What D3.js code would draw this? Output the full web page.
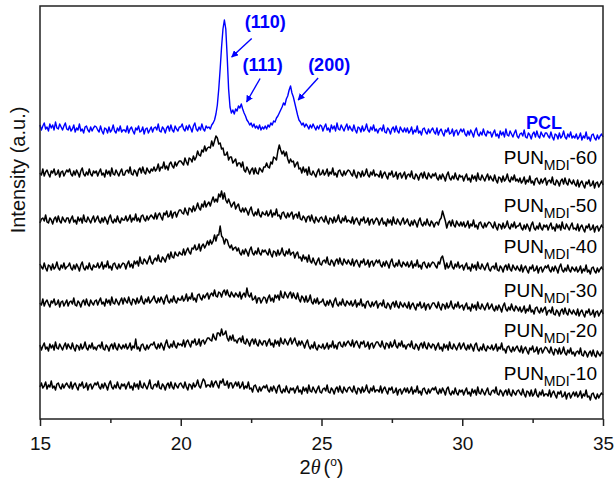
<!DOCTYPE html>
<html>
<head>
<meta charset="utf-8">
<script src="https://cdn.jsdelivr.net/npm/d3@7"></script>
<style>
  html, body { margin: 0; padding: 0; background: #fff; }
  svg { display: block; font-family: Arial, "Liberation Sans", sans-serif; }
</style>
</head>
<body>
<svg id="chart" width="615" height="488"></svg>
<script>
// Diffraction angle grid (degrees 2θ), 0.05° step from 15 to 35
const twoTheta = d3.range(401).map(i => (300 + i) / 20);

// Stacked intensities (a.u., each pattern vertically offset); one row per degree
const pcl = [
  294,289,293,296,290,292,288,295,291,294,289,297,291,290,295,292,289,293,296,290,
  289,293,288,290,294,287,291,289,295,288,290,286,292,293,289,287,292,288,291,293,
  292,289,287,293,288,285,291,290,286,292,287,289,294,288,286,291,288,293,287,289,
  289,287,293,286,290,292,288,285,291,289,293,287,288,292,285,290,291,286,289,292,
  287,291,292,289,295,288,287,292,290,286,291,293,288,294,289,287,293,290,288,292,
  292,295,290,288,293,289,294,291,287,293,296,290,288,292,289,295,290,288,293,291,
  292,290,294,296,299,305,314,330,350,372,390,399,390,362,330,312,306,309,305,310,
  308,313,311,315,310,306,303,299,297,294,296,292,295,291,293,290,294,289,292,290,
  293,290,294,292,296,294,298,297,301,303,306,309,312,316,314,320,323,329,333,326,
  322,316,310,304,299,297,294,296,292,295,293,290,294,291,295,292,289,293,290,294,
  293,288,292,295,289,291,287,294,290,293,288,296,290,289,294,291,288,292,295,289,
  293,290,288,294,289,286,292,291,287,293,288,290,295,289,287,292,289,294,288,290,
  286,290,291,288,294,287,286,291,289,285,290,292,287,293,288,286,292,289,287,291,
  287,291,286,288,292,285,289,287,293,286,288,284,290,291,287,285,290,286,289,291,
  287,285,291,284,288,290,286,283,289,287,291,285,286,290,283,288,289,284,287,290,
  287,290,285,283,288,284,289,286,282,288,291,285,283,287,284,290,285,283,288,286,
  287,282,286,289,283,285,281,288,284,287,282,290,284,283,288,285,282,286,289,283,
  281,285,286,283,289,282,281,286,284,280,285,287,282,288,283,281,287,284,282,286,
  286,283,281,287,282,279,285,284,280,286,281,283,288,282,280,285,282,287,281,283,
  281,285,280,282,286,279,283,281,287,280,282,278,284,285,281,279,284,280,283,285,
  282
];
const pun60 = [
  246,244,250,243,247,249,245,242,248,246,250,244,245,249,242,247,248,243,246,249,
  247,250,245,243,248,244,249,246,242,248,251,245,243,247,244,250,245,243,248,246,
  248,243,247,250,244,246,242,249,245,248,243,251,245,244,249,246,243,247,250,244,
  244,248,249,246,252,245,244,249,247,243,249,251,246,252,247,245,251,248,246,250,
  248,252,248,250,255,248,252,251,257,250,253,249,255,257,253,251,257,253,256,258,
  258,256,254,261,257,254,261,260,257,263,259,262,268,264,263,269,267,273,268,271,
  272,271,278,273,278,283,281,275,276,270,271,264,264,267,259,262,262,256,258,260,
  253,256,256,252,257,249,247,252,249,245,249,251,245,251,246,245,251,249,247,252,
  252,256,252,251,257,255,262,261,259,268,274,269,265,268,263,267,260,256,260,257,
  258,252,255,257,250,251,246,252,247,250,244,252,245,244,248,245,242,247,250,244,
  245,249,244,246,250,243,247,245,251,244,246,242,248,249,245,243,248,244,247,249,
  248,245,243,249,244,241,247,246,242,248,243,245,250,244,242,247,244,249,243,245,
  244,242,248,241,245,247,243,240,246,244,248,242,243,247,240,245,246,241,244,247,
  240,244,245,242,248,241,240,245,243,239,244,246,241,247,242,240,246,243,241,245,
  243,246,241,239,244,240,245,242,238,244,247,241,239,243,240,246,241,239,244,242,
  243,238,242,245,239,241,237,244,240,243,238,246,240,239,244,241,238,242,245,239,
  243,240,238,244,239,236,242,241,237,243,238,240,245,239,237,242,239,244,238,240,
  237,241,236,238,242,235,239,237,243,236,238,234,240,241,237,235,240,236,239,241,
  234,238,239,236,242,235,234,239,237,233,238,240,235,241,236,234,240,237,235,239,
  235,233,239,232,236,238,234,231,237,235,239,233,234,238,231,236,237,232,235,238,
  234
];
const pun50 = [
  196,200,201,198,204,197,196,201,199,195,200,202,197,203,198,196,202,199,197,201,
  201,196,200,203,197,199,195,202,198,201,196,204,198,197,202,199,196,200,203,197,
  200,203,198,196,201,197,202,199,195,201,204,198,196,200,197,203,198,196,201,199,
  199,203,198,200,204,197,201,199,205,198,201,197,203,204,200,198,203,199,202,204,
  202,200,206,200,204,206,202,199,206,204,208,202,203,208,201,206,207,202,206,209,
  209,206,205,211,207,204,211,210,207,213,208,211,216,211,209,215,212,218,212,215,
  217,213,218,222,217,220,217,225,222,228,220,226,219,216,220,216,212,215,217,210,
  213,215,209,207,211,207,211,208,204,209,212,206,203,207,204,210,204,202,207,205,
  204,208,203,205,209,202,206,204,210,203,204,200,206,207,203,201,206,202,205,207,
  200,204,205,201,207,200,199,203,201,197,202,203,198,204,199,196,202,199,197,201,
  202,199,197,203,198,195,201,200,196,202,197,199,204,198,196,201,198,203,197,199,
  198,196,202,195,199,201,197,194,200,198,202,196,197,201,194,199,200,195,198,201,
  199,194,198,201,195,197,193,200,196,199,194,202,196,195,200,197,194,198,201,195,
  197,200,195,193,198,194,199,196,192,198,201,195,193,197,194,200,195,193,198,196,
  192,196,197,194,199,201,208,203,198,191,196,198,193,199,194,192,198,195,193,197,
  193,197,192,194,198,191,195,193,199,192,194,190,196,197,193,191,196,192,195,197,
  196,193,191,197,192,189,195,194,190,196,191,193,198,192,190,195,192,197,191,193,
  193,196,191,189,194,190,195,192,188,194,197,191,189,193,190,196,191,189,194,192,
  194,189,193,196,190,192,188,195,191,194,189,197,191,190,195,192,189,193,196,190,
  191,189,195,188,192,194,190,187,193,191,195,189,190,194,187,192,193,188,191,194,
  191
];
const pun40 = [
  155,152,150,156,151,148,154,153,149,155,150,152,157,151,149,154,151,156,150,152,
  153,156,151,149,154,150,155,152,148,154,157,151,149,153,150,156,151,149,154,152,
  152,156,151,153,157,150,154,152,158,151,153,149,155,156,152,150,155,151,154,156,
  155,150,155,158,152,155,151,158,155,158,153,162,156,155,160,158,155,159,163,157,
  155,159,161,158,164,158,157,162,160,157,162,165,160,167,162,161,167,164,163,167,
  165,164,170,164,168,171,167,165,171,170,174,169,170,175,168,173,175,171,174,178,
  174,179,175,178,184,178,184,184,193,183,181,175,180,179,174,171,174,169,171,172,
  168,171,166,164,169,165,170,167,163,169,172,166,164,168,165,171,166,164,169,167,
  169,166,164,170,165,162,168,167,163,169,164,166,171,165,163,168,165,170,164,166,
  167,161,165,167,161,162,158,164,160,162,157,164,158,156,161,157,154,158,161,155,
  154,158,159,156,162,155,154,159,157,153,158,160,155,161,156,154,160,157,155,159,
  156,154,160,153,157,159,155,152,158,156,160,154,155,159,152,157,158,153,156,159,
  156,159,154,152,157,153,158,155,151,157,160,154,152,156,153,159,154,152,157,155,
  153,157,152,154,158,151,155,153,159,152,154,150,156,157,153,151,156,152,155,157,
  156,153,151,157,155,161,163,157,150,156,151,153,158,152,150,155,152,157,151,153,
  154,149,153,156,150,152,148,155,151,154,149,157,151,150,155,152,149,153,156,150,
  148,152,153,150,156,149,148,153,151,147,152,154,149,155,150,148,154,151,149,153,
  150,148,154,147,151,153,149,146,152,150,154,148,149,153,146,151,152,147,150,153,
  151,154,149,147,152,148,153,150,146,152,155,149,147,151,148,154,149,147,152,150,
  148,152,147,149,153,146,150,148,154,147,149,145,151,152,148,146,151,147,150,152,
  149
];
const pun30 = [
  116,114,120,113,117,119,115,112,118,116,120,114,115,119,112,117,118,113,116,119,
  113,117,118,115,121,114,113,118,116,112,117,119,114,120,115,113,119,116,114,118,
  119,114,118,121,115,117,113,120,116,119,114,122,116,115,120,117,114,118,121,115,
  121,118,116,122,117,114,120,119,115,121,116,118,123,117,115,120,117,122,116,118,
  120,123,118,116,121,117,122,119,115,121,124,118,116,120,117,123,118,116,121,119,
  119,123,118,120,125,118,122,120,126,119,121,117,124,125,121,119,124,121,124,126,
  120,124,126,123,129,123,122,127,126,122,127,129,124,129,124,122,127,124,122,126,
  124,122,127,120,124,126,122,131,124,122,126,119,120,123,116,121,121,116,119,122,
  121,116,121,124,118,121,117,124,121,124,119,128,122,121,127,124,121,125,127,121,
  126,122,120,126,120,117,123,121,117,123,117,119,124,117,115,120,116,121,115,117,
  117,120,115,113,118,114,119,116,112,118,121,115,113,117,114,120,115,113,118,116,
  114,118,113,115,119,112,116,114,120,113,115,111,117,118,114,112,117,113,116,118,
  111,115,116,113,119,112,111,116,114,110,115,117,112,118,113,111,117,114,112,116,
  113,111,117,110,114,116,112,109,115,113,117,111,112,116,109,114,115,110,113,116,
  116,113,111,117,112,109,115,114,110,116,111,113,118,112,110,115,112,117,111,113,
  114,109,113,116,110,112,108,115,111,114,109,117,111,110,115,112,109,113,116,110,
  112,115,110,108,113,109,114,111,107,113,116,110,108,112,109,115,110,108,113,111,
  108,112,107,109,113,106,110,108,114,107,109,105,111,112,108,106,111,107,110,112,
  104,108,109,106,112,105,104,109,107,103,108,110,105,111,106,104,110,107,105,109,
  106,104,110,103,107,109,105,102,108,106,110,104,105,109,102,107,108,103,106,109,
  105
];
const pun20 = [
  74,69,73,76,70,72,68,75,71,74,69,77,71,70,75,72,69,73,76,70,
  75,72,70,76,71,68,74,73,69,75,70,72,77,71,69,74,71,76,70,72,
  69,73,74,71,77,70,69,74,72,68,73,75,70,76,71,69,75,72,70,74,
  71,75,70,72,76,69,73,71,80,70,72,68,74,75,71,69,74,70,73,75,
  74,77,72,70,75,71,76,73,69,75,79,73,71,75,72,78,73,71,76,74,
  75,73,79,72,77,79,75,72,78,76,80,74,75,80,73,78,79,75,78,81,
  81,79,78,85,81,79,86,86,83,90,84,85,88,81,78,83,79,84,78,79,
  76,80,81,77,83,76,75,80,77,73,78,80,75,80,75,73,79,76,74,78,
  78,73,77,80,74,76,72,79,75,78,73,81,76,75,80,77,74,78,81,75,
  78,81,76,73,78,74,78,75,71,76,79,73,70,74,71,77,71,69,74,72,
  71,75,70,72,76,70,74,72,78,71,74,70,76,77,73,72,77,73,76,78,
  75,73,79,72,76,78,74,71,77,75,78,72,73,77,70,75,76,71,74,77,
  77,74,72,78,73,70,76,75,71,77,72,74,79,73,71,76,73,78,72,74,
  70,74,75,72,78,71,70,75,73,69,74,76,71,77,72,70,76,73,71,75,
  74,69,73,76,70,72,68,75,71,74,69,77,71,70,75,72,69,73,76,70,
  73,76,71,69,74,70,75,72,68,74,76,70,68,72,69,75,70,68,73,71,
  70,74,69,71,75,68,72,70,76,69,70,66,72,73,69,67,72,68,71,73,
  69,67,73,66,70,72,68,65,71,69,73,67,68,72,65,70,71,66,69,72,
  71,68,66,72,67,64,70,69,65,71,65,67,72,66,64,69,66,71,65,67,
  63,67,68,65,71,64,63,68,66,62,66,68,63,69,64,62,68,65,63,67,
  65
];
const pun10 = [
  32,36,31,33,37,30,34,32,38,31,33,29,35,36,32,30,35,31,34,36,
  33,31,37,30,34,36,32,29,35,33,37,31,32,36,29,34,35,30,33,36,
  34,37,32,30,35,31,36,33,29,35,38,32,30,34,31,37,32,30,35,33,
  35,30,34,37,31,33,29,36,32,35,30,38,32,31,36,33,30,34,39,31,
  30,34,35,32,38,31,30,35,33,29,34,36,31,37,32,30,36,33,31,35,
  36,33,31,37,32,29,35,34,30,36,32,34,39,33,31,36,40,38,32,34,
  34,32,38,32,36,38,34,31,38,36,40,34,34,38,31,36,36,31,34,37,
  33,37,31,33,37,30,33,31,37,30,31,27,33,34,30,27,32,28,31,33,
  31,34,29,27,32,28,33,30,26,32,34,28,26,30,27,33,28,26,31,29,
  31,26,30,33,27,29,25,32,28,31,26,34,28,27,32,29,26,30,33,27,
  26,30,31,28,34,27,26,31,29,25,30,32,27,33,28,26,32,29,27,31,
  32,29,27,33,28,25,31,30,26,32,27,29,34,28,26,31,28,33,27,29,
  29,27,33,26,30,32,28,25,31,29,32,26,27,31,24,29,30,25,28,31,
  27,31,26,28,32,25,29,27,33,26,28,24,30,31,27,25,30,26,29,31,
  29,32,27,25,30,26,31,28,24,30,32,26,24,28,25,31,26,24,29,27,
  29,24,28,31,25,27,23,30,26,29,24,32,26,25,30,27,24,28,31,25,
  24,28,29,26,32,25,24,29,27,23,27,29,24,30,25,23,29,26,24,28,
  29,26,24,30,25,22,28,27,23,29,23,25,30,24,22,27,24,29,23,25,
  25,23,29,22,26,28,24,21,27,25,28,22,23,27,20,25,26,21,24,27,
  23,27,22,24,28,21,25,23,29,22,23,19,25,26,22,20,25,21,24,26,
  24
];

const sampleIds = ["PCL", "PUN-60", "PUN-50", "PUN-40", "PUN-30", "PUN-20", "PUN-10"];
const sampleSuffix = ["", "-60", "-50", "-40", "-30", "-20", "-10"];
const patterns = [pcl, pun60, pun50, pun40, pun30, pun20, pun10];
const majorTicks = [15, 20, 25, 30, 35];
const minorTicks = [17.5, 22.5, 27.5, 32.5];
const reflections = ["(110)", "(111)", "(200)"];

// ---- layout ----
const plot = { left: 40, right: 603, top: 6, bottom: 419 };
const svg = d3.select("#chart");

const x = d3.scaleLinear().domain([15, 35]).range([plot.left, plot.right]);
const y = d3.scaleLinear().domain([0, 413]).range([plot.bottom, plot.top]);

const blue = "#0000ff";
const ink = "#222";

// traces
const line = d3.line()
  .x((d, i) => x(twoTheta[i]))
  .y(d => y(d));

svg.append("g").selectAll("path")
  .data(patterns)
  .join("path")
  .attr("d", d => line(d))
  .attr("fill", "none")
  .attr("stroke", (d, i) => i === 0 ? blue : "#000")
  .attr("stroke-width", (d, i) => i === 0 ? 1.4 : 1.5)
  .attr("stroke-linejoin", "round");

// frame
svg.append("rect")
  .attr("x", plot.left).attr("y", plot.top)
  .attr("width", plot.right - plot.left).attr("height", plot.bottom - plot.top)
  .attr("fill", "none").attr("stroke", ink).attr("stroke-width", 1.5);

// bottom axis: major ticks with labels, minor ticks without
const gx = svg.append("g").attr("transform", `translate(0,${plot.bottom})`);
gx.call(d3.axisBottom(x).tickValues(majorTicks).tickSize(7).tickPadding(10.5).tickFormat(d3.format("d")));
gx.append("g").call(d3.axisBottom(x).tickValues(minorTicks).tickSize(4).tickFormat(""));
gx.selectAll(".domain").remove();
gx.selectAll("line").attr("stroke", ink).attr("stroke-width", 1.5);
gx.selectAll("text").attr("fill", "#111").style("font-size", "19px")
  .style("font-family", "Arial, 'Liberation Sans', sans-serif");

// axis titles
const xt = svg.append("text")
  .attr("x", (plot.left + plot.right) / 2).attr("y", 474)
  .attr("text-anchor", "middle").attr("fill", "#111").style("font-size", "20px");
xt.append("tspan").text("2");
xt.append("tspan").attr("font-style", "italic").attr("font-family", "'Liberation Serif', 'Times New Roman', serif").text("θ");
xt.append("tspan").attr("dx", 3).text("(");
xt.append("tspan").attr("dy", -8).style("font-size", "12px").text("o");
xt.append("tspan").attr("dy", 8).text(")");

svg.append("text")
  .attr("transform", "translate(25,170) rotate(-90)")
  .attr("text-anchor", "middle").attr("fill", "#111").style("font-size", "20px")
  .text("Intensity (a.u.)");

// sample labels
svg.append("text")
  .attr("x", 526).attr("y", 129)
  .attr("fill", blue).attr("font-weight", "bold").style("font-size", "18px")
  .text(sampleIds[0]);

const labelBaselines = [164, 212, 253, 297, 337, 380];
labelBaselines.forEach((b, k) => {
  const t = svg.append("text")
    .attr("x", 597).attr("y", b).attr("text-anchor", "end")
    .attr("fill", "#000").style("font-size", "19px");
  t.append("tspan").text("PUN");
  t.append("tspan").attr("dy", 6).style("font-size", "14px").text("MDI");
  t.append("tspan").attr("dy", -6).text(sampleSuffix[k + 1]);
});

// reflection annotations with arrows
const defs = svg.append("defs");
defs.append("marker")
  .attr("id", "head").attr("viewBox", "0 0 10 10")
  .attr("refX", 9).attr("refY", 5)
  .attr("markerWidth", 7).attr("markerHeight", 7)
  .attr("markerUnits", "userSpaceOnUse")
  .attr("orient", "auto")
  .append("path").attr("d", "M0,0L10,5L0,10z").attr("fill", blue);

const notes = [
  { tip: [21.81, 362], tail: [20, -18.5], text: [13, -29] },
  { tip: [22.34, 317], tail: [13.5, -23.5], text: [-4, -31] },
  { tip: [24.17, 319], tail: [20, -22], text: [10, -29] }
];
notes.forEach((n, k) => {
  const tx = x(n.tip[0]), ty = y(n.tip[1]);
  svg.append("line")
    .attr("x1", tx + n.tail[0]).attr("y1", ty + n.tail[1])
    .attr("x2", tx).attr("y2", ty)
    .attr("stroke", blue).attr("stroke-width", 1.4)
    .attr("marker-end", "url(#head)");
  svg.append("text")
    .attr("x", tx + n.text[0]).attr("y", ty + n.text[1])
    .attr("fill", blue).attr("font-weight", "bold").style("font-size", "18px")
    .text(reflections[k]);
});
</script>
</body>
</html>
